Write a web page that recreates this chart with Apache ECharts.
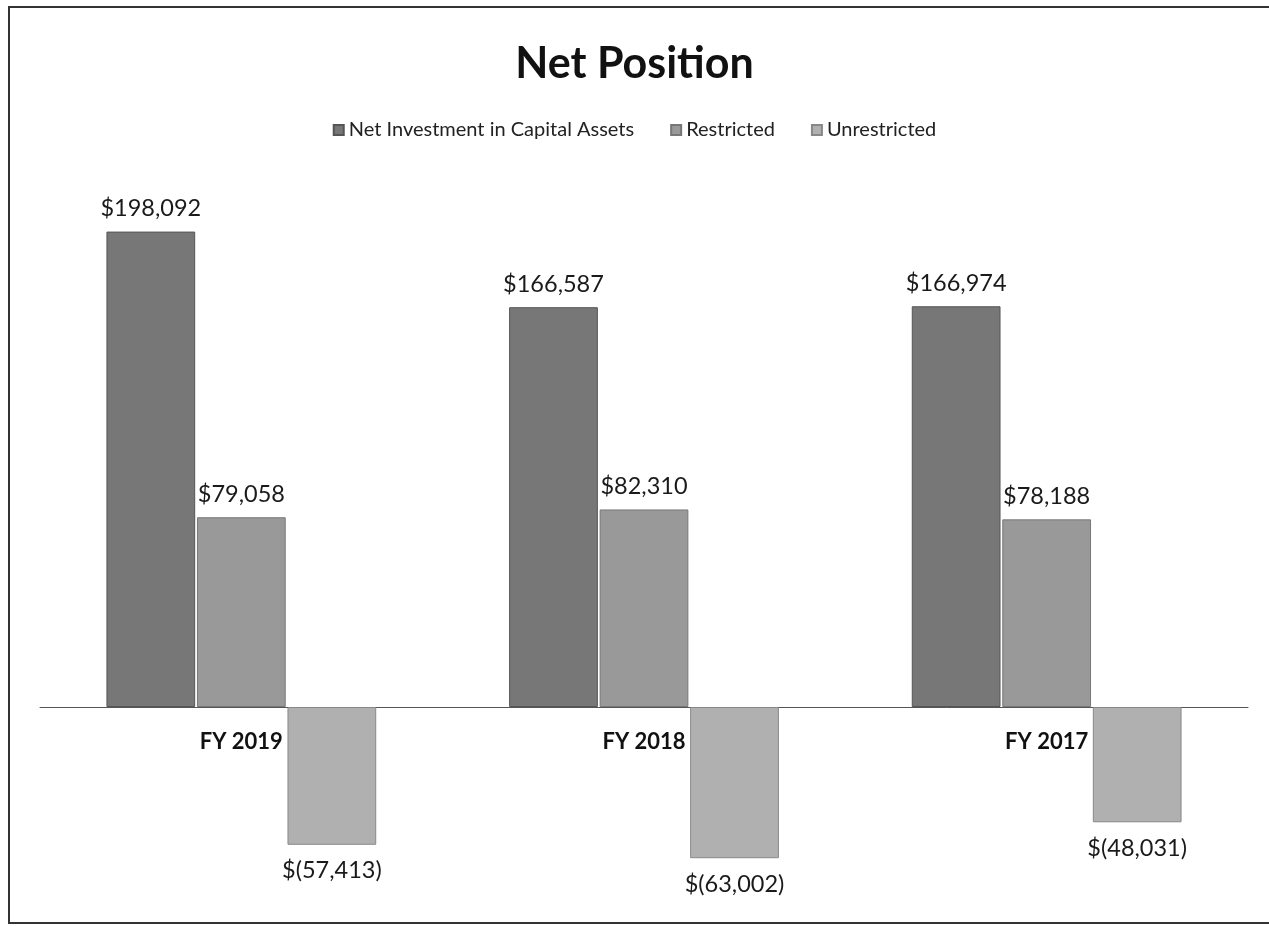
<!DOCTYPE html>
<html>
<head>
<meta charset="utf-8">
<script src="https://cdn.jsdelivr.net/npm/echarts@6/dist/echarts.min.js"></script>
<style>
html,body{margin:0;padding:0;background:#fff;}
#chart{width:1269px;height:926px;}
</style>
</head>
<body>
<div id="chart"></div>
<script>
const categories = ['FY 2019', 'FY 2018', 'FY 2017'];
const seriesNames = ['Net Investment in Capital Assets', 'Restricted', 'Unrestricted'];
const netInvestment = [198092, 166587, 166974];
const restricted = [79058, 82310, 78188];
const unrestricted = [-57413, -63002, -48031];

function money(v) {
  const s = Math.abs(v).toLocaleString('en-US');
  return v < 0 ? '$(' + s + ')' : '$' + s;
}

const FONT = 'Lato, "Noto Sans", sans-serif';
const chart = echarts.init(document.getElementById('chart'), null, {renderer: 'canvas'});

const labelStyle = (pos, dist) => ({
  show: true,
  position: pos,
  distance: dist,
  fontFamily: FONT,
  fontSize: 23.5,
  color: '#1a1a1a',
  formatter: p => money(p.value)
});

chart.setOption({
  backgroundColor: '#ffffff',
  animation: false,
  title: {
    text: 'Net Position',
    left: 'center',
    top: 38,
    textStyle: {fontFamily: FONT, fontSize: 43, fontWeight: 'bold', color: '#111'}
  },
  legend: {
    data: seriesNames,
    top: 115,
    left: 'center',
    icon: 'rect',
    itemWidth: 10,
    itemHeight: 10,
    itemGap: 36,
    textStyle: {fontFamily: FONT, fontSize: 20, color: '#222'}
  },
  graphic: [{
    type: 'rect',
    shape: {x: 9, y: 7, width: 1300, height: 916},
    style: {fill: 'none', stroke: '#333', lineWidth: 2},
    silent: true
  }],
  grid: {left: 40, width: 1208, top: 227, height: 648, containLabel: false},
  xAxis: {
    type: 'category',
    data: categories,
    offset: -168,
    axisTick: {show: false},
    axisLine: {onZero: false, lineStyle: {color: '#555', width: 1}},
    axisLabel: {fontFamily: FONT, fontSize: 22, fontWeight: 'bold', color: '#111', margin: 24}
  },
  yAxis: {
    type: 'value',
    min: -70000,
    max: 200000,
    show: false,
    splitLine: {show: false}
  },
  series: [
    {name: seriesNames[0], type: 'bar', data: netInvestment, barGap: '2%', barCategoryGap: '33%',
     itemStyle: {color: '#777777', borderColor: '#555555', borderWidth: 1}, label: labelStyle('top', 11)},
    {name: seriesNames[1], type: 'bar', data: restricted,
     itemStyle: {color: '#999999', borderColor: '#777777', borderWidth: 1}, label: labelStyle('top', 11)},
    {name: seriesNames[2], type: 'bar', data: unrestricted,
     itemStyle: {color: '#b0b0b0', borderColor: '#888888', borderWidth: 1}, label: labelStyle('bottom', 14)}
  ]
});
</script>
</body>
</html>
